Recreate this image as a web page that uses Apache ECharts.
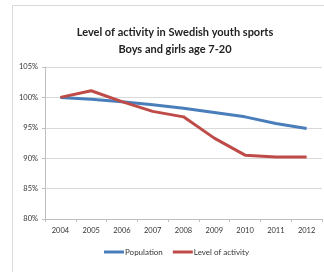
<!DOCTYPE html>
<html><head><meta charset="utf-8">
<script src="https://cdn.jsdelivr.net/npm/echarts@6/dist/echarts.min.js"></script>
<style>html,body{margin:0;padding:0;background:#fff}#c{width:324px;height:272px}</style>
</head><body><div id="c"></div>
<script>
const years = ['2004','2005','2006','2007','2008','2009','2010','2011','2012'];
const population = [100, 99.7, 99.3, 98.8, 98.2, 97.5, 96.8, 95.7, 94.9];
const activity = [100, 101.1, 99.3, 97.7, 96.8, 93.3, 90.5, 90.2, 90.2];
const titleLines = ['Level of activity in Swedish youth sports', 'Boys and girls age 7-20'];
const seriesNames = ['Population', 'Level of activity'];

const chart = echarts.init(document.getElementById('c'), null, {renderer: 'canvas'});
const font = 'Lato, "Noto Sans", sans-serif';
chart.setOption({
  animation: false,
  graphic: [{type: 'rect', shape: {x: 12.5, y: 5.5, width: 400, height: 400}, style: {fill: 'none', stroke: '#d9d9d9', lineWidth: 1}}],
  title: {
    text: titleLines.join('\n'), left: 170, top: 19, textAlign: 'center',
    textStyle: {fontFamily: font, fontSize: 11, fontWeight: 'bold', color: '#222', lineHeight: 17}
  },
  legend: {
    bottom: 11, left: 99, itemWidth: 20, itemHeight: 3, itemGap: 10,
    icon: 'rect',
    textStyle: {fontFamily: font, fontSize: 8, color: '#333', padding: [0, 0, 0, -4]},
    data: seriesNames
  },
  grid: {left: 45, right: 2, top: 67, bottom: 53, containLabel: false},
  xAxis: {
    type: 'category', data: years, boundaryGap: true,
    axisLine: {lineStyle: {color: '#bfbfbf'}},
    axisTick: {show: true, length: 3, lineStyle: {color: '#bfbfbf'}},
    axisLabel: {fontFamily: font, fontSize: 7.5, color: '#333', margin: 8}
  },
  yAxis: {
    type: 'value', min: 80, max: 105, interval: 5,
    axisLine: {show: true, lineStyle: {color: '#bfbfbf'}},
    axisTick: {show: true, length: 3, lineStyle: {color: '#bfbfbf'}},
    splitLine: {lineStyle: {color: '#d9d9d9', width: 1}},
    axisLabel: {fontFamily: font, fontSize: 7.5, color: '#333', margin: 7, formatter: v => v + '%'}
  },
  series: [
    {name: seriesNames[0], type: 'line', data: population, symbol: 'none', lineStyle: {color: '#4A7EBB', width: 3}, itemStyle: {color: '#4A7EBB'}},
    {name: seriesNames[1], type: 'line', data: activity, symbol: 'none', lineStyle: {color: '#BE4B48', width: 3}, itemStyle: {color: '#BE4B48'}}
  ]
});
</script></body></html>
